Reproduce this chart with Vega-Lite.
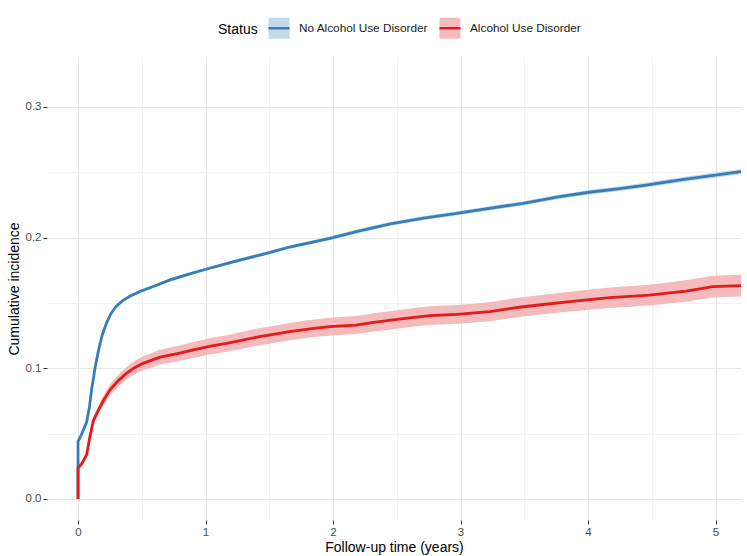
{
  "$schema": "https://vega.github.io/schema/vega-lite/v6.json",
  "width": 694,
  "height": 463,
  "autosize": "none",
  "padding": {"left": 47, "top": 57, "right": 6, "bottom": 36},
  "background": "white",
  "config": {
    "font": "Liberation Sans",
    "view": {"stroke": null},
    "axis": {
      "domain": false,
      "tickSize": 4,
      "tickWidth": 1,
      "labelColor": "#4d4d4d",
      "labelFontSize": 11.5,
      "titleFontSize": 14,
      "titleFontWeight": "normal",
      "titleColor": "black"
    },
    "legend": {
      "orient": "none",
      "legendX": 171,
      "legendY": -41,
      "direction": "horizontal",
      "padding": 0,
      "titleOrient": "left",
      "titleAnchor": "middle",
      "titleBaseline": "middle",
      "titleFontSize": 14,
      "titleFontWeight": "normal",
      "titleColor": "black",
      "titlePadding": 9,
      "labelFontSize": 11.8,
      "labelColor": "#1a1a1a",
      "labelOffset": 8,
      "columnPadding": 5,
      "symbolSize": 441,
      "symbolType": "M-1,0H1V-1H-1V1H1V0Z",
      "symbolStrokeWidth": 2.5,
      "symbolDash": [21, 84]
    }
  },
  "datasets": {
    "cif": [
      {"status": "No Alcohol Use Disorder", "i": 0, "t": 0, "est": 0, "lo": 0, "hi": 0},
      {"status": "No Alcohol Use Disorder", "i": 1, "t": 0, "est": 0.044, "lo": 0.0432, "hi": 0.0448},
      {"status": "No Alcohol Use Disorder", "i": 2, "t": 0.03, "est": 0.05, "lo": 0.0492, "hi": 0.0508},
      {"status": "No Alcohol Use Disorder", "i": 3, "t": 0.068, "est": 0.059, "lo": 0.0582, "hi": 0.0598},
      {"status": "No Alcohol Use Disorder", "i": 4, "t": 0.09, "est": 0.071, "lo": 0.0702, "hi": 0.0718},
      {"status": "No Alcohol Use Disorder", "i": 5, "t": 0.107, "est": 0.084, "lo": 0.0831, "hi": 0.0849},
      {"status": "No Alcohol Use Disorder", "i": 6, "t": 0.133, "est": 0.1, "lo": 0.0991, "hi": 0.1009},
      {"status": "No Alcohol Use Disorder", "i": 7, "t": 0.16, "est": 0.1135, "lo": 0.1126, "hi": 0.1144},
      {"status": "No Alcohol Use Disorder", "i": 8, "t": 0.19, "est": 0.1255, "lo": 0.1246, "hi": 0.1264},
      {"status": "No Alcohol Use Disorder", "i": 9, "t": 0.225, "est": 0.1352, "lo": 0.1342, "hi": 0.1362},
      {"status": "No Alcohol Use Disorder", "i": 10, "t": 0.26, "est": 0.1422, "lo": 0.1412, "hi": 0.1432},
      {"status": "No Alcohol Use Disorder", "i": 11, "t": 0.3, "est": 0.1475, "lo": 0.1465, "hi": 0.1485},
      {"status": "No Alcohol Use Disorder", "i": 12, "t": 0.35, "est": 0.1518, "lo": 0.1508, "hi": 0.1528},
      {"status": "No Alcohol Use Disorder", "i": 13, "t": 0.41, "est": 0.1553, "lo": 0.1543, "hi": 0.1563},
      {"status": "No Alcohol Use Disorder", "i": 14, "t": 0.486, "est": 0.1588, "lo": 0.1577, "hi": 0.1599},
      {"status": "No Alcohol Use Disorder", "i": 15, "t": 0.6, "est": 0.163, "lo": 0.1619, "hi": 0.1641},
      {"status": "No Alcohol Use Disorder", "i": 16, "t": 0.721, "est": 0.1676, "lo": 0.1665, "hi": 0.1687},
      {"status": "No Alcohol Use Disorder", "i": 17, "t": 0.85, "est": 0.1715, "lo": 0.1703, "hi": 0.1727},
      {"status": "No Alcohol Use Disorder", "i": 18, "t": 0.982, "est": 0.1752, "lo": 0.174, "hi": 0.1764},
      {"status": "No Alcohol Use Disorder", "i": 19, "t": 1.2, "est": 0.181, "lo": 0.1797, "hi": 0.1823},
      {"status": "No Alcohol Use Disorder", "i": 20, "t": 1.479, "est": 0.188, "lo": 0.1867, "hi": 0.1893},
      {"status": "No Alcohol Use Disorder", "i": 21, "t": 1.66, "est": 0.1928, "lo": 0.1914, "hi": 0.1942},
      {"status": "No Alcohol Use Disorder", "i": 22, "t": 1.975, "est": 0.1994, "lo": 0.198, "hi": 0.2008},
      {"status": "No Alcohol Use Disorder", "i": 23, "t": 2.2, "est": 0.205, "lo": 0.2035, "hi": 0.2065},
      {"status": "No Alcohol Use Disorder", "i": 24, "t": 2.45, "est": 0.2105, "lo": 0.209, "hi": 0.212},
      {"status": "No Alcohol Use Disorder", "i": 25, "t": 2.7, "est": 0.2148, "lo": 0.2133, "hi": 0.2163},
      {"status": "No Alcohol Use Disorder", "i": 26, "t": 2.97, "est": 0.2186, "lo": 0.217, "hi": 0.2202},
      {"status": "No Alcohol Use Disorder", "i": 27, "t": 3.2, "est": 0.222, "lo": 0.2204, "hi": 0.2236},
      {"status": "No Alcohol Use Disorder", "i": 28, "t": 3.49, "est": 0.2262, "lo": 0.2245, "hi": 0.2279},
      {"status": "No Alcohol Use Disorder", "i": 29, "t": 3.777, "est": 0.2313, "lo": 0.2296, "hi": 0.233},
      {"status": "No Alcohol Use Disorder", "i": 30, "t": 4.01, "est": 0.2347, "lo": 0.2329, "hi": 0.2365},
      {"status": "No Alcohol Use Disorder", "i": 31, "t": 4.25, "est": 0.2375, "lo": 0.2357, "hi": 0.2393},
      {"status": "No Alcohol Use Disorder", "i": 32, "t": 4.457, "est": 0.2402, "lo": 0.2383, "hi": 0.2421},
      {"status": "No Alcohol Use Disorder", "i": 33, "t": 4.75, "est": 0.2445, "lo": 0.2426, "hi": 0.2464},
      {"status": "No Alcohol Use Disorder", "i": 34, "t": 5.0, "est": 0.2478, "lo": 0.2458, "hi": 0.2498},
      {"status": "No Alcohol Use Disorder", "i": 35, "t": 5.2, "est": 0.2505, "lo": 0.2485, "hi": 0.2525},

      {"status": "Alcohol Use Disorder", "i": 0, "t": 0, "est": 0, "lo": 0, "hi": 0},
      {"status": "Alcohol Use Disorder", "i": 1, "t": 0, "est": 0.024, "lo": 0.022, "hi": 0.026},
      {"status": "Alcohol Use Disorder", "i": 2, "t": 0.03, "est": 0.027, "lo": 0.025, "hi": 0.029},
      {"status": "Alcohol Use Disorder", "i": 3, "t": 0.068, "est": 0.034, "lo": 0.0315, "hi": 0.0365},
      {"status": "Alcohol Use Disorder", "i": 4, "t": 0.09, "est": 0.046, "lo": 0.0433, "hi": 0.0487},
      {"status": "Alcohol Use Disorder", "i": 5, "t": 0.12, "est": 0.06, "lo": 0.057, "hi": 0.063},
      {"status": "Alcohol Use Disorder", "i": 6, "t": 0.16, "est": 0.068, "lo": 0.0646, "hi": 0.0714},
      {"status": "Alcohol Use Disorder", "i": 7, "t": 0.2, "est": 0.0755, "lo": 0.0718, "hi": 0.0792},
      {"status": "Alcohol Use Disorder", "i": 8, "t": 0.25, "est": 0.0834, "lo": 0.0792, "hi": 0.0876},
      {"status": "Alcohol Use Disorder", "i": 9, "t": 0.31, "est": 0.09, "lo": 0.0856, "hi": 0.0944},
      {"status": "Alcohol Use Disorder", "i": 10, "t": 0.38, "est": 0.0962, "lo": 0.0914, "hi": 0.101},
      {"status": "Alcohol Use Disorder", "i": 11, "t": 0.44, "est": 0.1003, "lo": 0.0952, "hi": 0.1054},
      {"status": "Alcohol Use Disorder", "i": 12, "t": 0.51, "est": 0.1038, "lo": 0.0983, "hi": 0.1093},
      {"status": "Alcohol Use Disorder", "i": 13, "t": 0.643, "est": 0.1085, "lo": 0.1028, "hi": 0.1142},
      {"status": "Alcohol Use Disorder", "i": 14, "t": 0.78, "est": 0.1112, "lo": 0.1054, "hi": 0.117},
      {"status": "Alcohol Use Disorder", "i": 15, "t": 0.904, "est": 0.114, "lo": 0.1079, "hi": 0.1201},
      {"status": "Alcohol Use Disorder", "i": 16, "t": 1.03, "est": 0.1168, "lo": 0.1106, "hi": 0.123},
      {"status": "Alcohol Use Disorder", "i": 17, "t": 1.165, "est": 0.119, "lo": 0.1127, "hi": 0.1253},
      {"status": "Alcohol Use Disorder", "i": 18, "t": 1.3, "est": 0.1218, "lo": 0.1154, "hi": 0.1282},
      {"status": "Alcohol Use Disorder", "i": 19, "t": 1.426, "est": 0.1242, "lo": 0.1177, "hi": 0.1307},
      {"status": "Alcohol Use Disorder", "i": 20, "t": 1.66, "est": 0.128, "lo": 0.1214, "hi": 0.1346},
      {"status": "Alcohol Use Disorder", "i": 21, "t": 1.82, "est": 0.1302, "lo": 0.1235, "hi": 0.1369},
      {"status": "Alcohol Use Disorder", "i": 22, "t": 1.975, "est": 0.1318, "lo": 0.125, "hi": 0.1386},
      {"status": "Alcohol Use Disorder", "i": 23, "t": 2.18, "est": 0.1331, "lo": 0.1262, "hi": 0.14},
      {"status": "Alcohol Use Disorder", "i": 24, "t": 2.32, "est": 0.1352, "lo": 0.1282, "hi": 0.1422},
      {"status": "Alcohol Use Disorder", "i": 25, "t": 2.47, "est": 0.137, "lo": 0.1299, "hi": 0.1441},
      {"status": "Alcohol Use Disorder", "i": 26, "t": 2.62, "est": 0.1388, "lo": 0.1317, "hi": 0.1459},
      {"status": "Alcohol Use Disorder", "i": 27, "t": 2.76, "est": 0.1403, "lo": 0.1331, "hi": 0.1475},
      {"status": "Alcohol Use Disorder", "i": 28, "t": 2.97, "est": 0.1413, "lo": 0.1341, "hi": 0.1485},
      {"status": "Alcohol Use Disorder", "i": 29, "t": 3.23, "est": 0.1433, "lo": 0.136, "hi": 0.1506},
      {"status": "Alcohol Use Disorder", "i": 30, "t": 3.46, "est": 0.1467, "lo": 0.1393, "hi": 0.1541},
      {"status": "Alcohol Use Disorder", "i": 31, "t": 3.65, "est": 0.1488, "lo": 0.1413, "hi": 0.1563},
      {"status": "Alcohol Use Disorder", "i": 32, "t": 3.856, "est": 0.151, "lo": 0.1434, "hi": 0.1586},
      {"status": "Alcohol Use Disorder", "i": 33, "t": 4.17, "est": 0.154, "lo": 0.1462, "hi": 0.1618},
      {"status": "Alcohol Use Disorder", "i": 34, "t": 4.48, "est": 0.156, "lo": 0.148, "hi": 0.164},
      {"status": "Alcohol Use Disorder", "i": 35, "t": 4.77, "est": 0.1591, "lo": 0.1509, "hi": 0.1673},
      {"status": "Alcohol Use Disorder", "i": 36, "t": 4.98, "est": 0.1625, "lo": 0.1542, "hi": 0.1708},
      {"status": "Alcohol Use Disorder", "i": 37, "t": 5.2, "est": 0.1632, "lo": 0.1549, "hi": 0.1715}
    ]
  },
  "data": {"name": "cif"},
  "encoding": {
    "x": {
      "field": "t",
      "type": "quantitative",
      "scale": {"domain": [-0.2435, 5.2], "nice": false, "zero": false},
      "axis": {
        "title": "Follow-up time (years)",
        "values": [0, 0.5, 1, 1.5, 2, 2.5, 3, 3.5, 4, 4.5, 5],
        "format": "~g",
        "labelExpr": "datum.value % 1 === 0 ? datum.label : ''",
        "gridColor": {"condition": {"test": "datum.value % 1 === 0", "value": "#e6e6e6"}, "value": "#f2f2f2"},
        "tickColor": {"condition": {"test": "datum.value % 1 === 0", "value": "#333333"}, "value": "transparent"},
        "labelPadding": 2,
        "titlePadding": 3
      }
    }
  },
  "layer": [
    {
      "mark": {"type": "area", "clip": true, "orient": "vertical"},
      "encoding": {
        "y": {
          "field": "hi",
          "type": "quantitative",
          "scale": {"domain": [-0.0161, 0.3382], "nice": false, "zero": false},
          "axis": {
            "title": "Cumulative incidence",
            "values": [0, 0.05, 0.1, 0.15, 0.2, 0.25, 0.3],
            "format": ".1f",
            "labelExpr": "abs(datum.value * 10 - round(datum.value * 10)) < 0.000001 ? datum.label : ''",
            "gridColor": {"condition": {"test": "abs(datum.value * 10 - round(datum.value * 10)) < 0.000001", "value": "#e6e6e6"}, "value": "#f2f2f2"},
            "tickColor": {"condition": {"test": "abs(datum.value * 10 - round(datum.value * 10)) < 0.000001", "value": "#333333"}, "value": "transparent"},
            "labelPadding": 2,
            "titlePadding": 4
          }
        },
        "y2": {"field": "lo"},
        "color": {
          "field": "status",
          "type": "nominal",
          "scale": {"domain": ["No Alcohol Use Disorder", "Alcohol Use Disorder"], "range": ["#c3d8eb", "#f5babb"]},
          "legend": {"title": "Status"}
        }
      }
    },
    {
      "mark": {"type": "line", "strokeWidth": 2.8, "clip": true},
      "encoding": {
        "order": {"field": "i", "type": "quantitative"},
        "y": {"field": "est", "type": "quantitative"},
        "stroke": {
          "field": "status",
          "type": "nominal",
          "scale": {"domain": ["No Alcohol Use Disorder", "Alcohol Use Disorder"], "range": ["#377eb8", "#e41a1c"]},
          "legend": {"title": "Status"}
        }
      }
    }
  ]
}
